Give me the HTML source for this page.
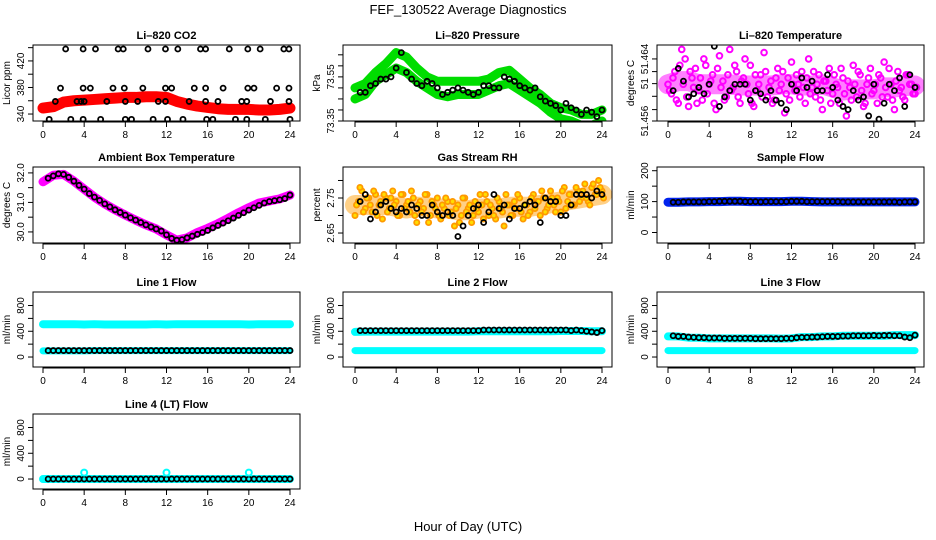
<!DOCTYPE html>
<html><head><meta charset="utf-8"><style>
html,body{margin:0;padding:0;background:#fff;}
svg{display:block;font-family:"Liberation Sans",sans-serif;}
</style></head><body>
<svg id="chart" width="936" height="540" viewBox="0 0 936 540" xmlns="http://www.w3.org/2000/svg">
<text x="468" y="14" text-anchor="middle" font-size="13">FEF_130522  Average Diagnostics</text>
<text x="468" y="531" text-anchor="middle" font-size="13">Hour of Day (UTC)</text>
</svg>
<script>
// ---- data ----
const hours = [0,1,2,3,4,5,6,7,8,9,10,11,12,13,14,15,16,17,18,19,20,21,22,23,24];
const blkH = [0.5,1,1.5,2,2.5,3,3.5,4,4.5,5,5.5,6,6.5,7,7.5,8,8.5,9,9.5,10,10.5,11,11.5,12,12.5,13,13.5,14,14.5,15,15.5,16,16.5,17,17.5,18,18.5,19,19.5,20,20.5,21,21.5,22,22.5,23,23.5,24];
const xTicks = [0,4,8,12,16,20,24];

const co2Band = [349,351,358,360,361,362,363,364,365,365,366,366,365,359,355,352,350,348,347,347,347,346,346,347,349];
const co2PtH = [2.2,3.9,5.1,7.3,7.8,10.2,11.9,13.1,15.3,15.8,18.1,19.9,21.1,23.4,23.9, 1.7,3.9,4.6,6.8,7.9,9.7,11.9,12.5,14.7,15.8,17.5,19.9,20.5,22.7,23.9, 1.2,3.3,3.7,4.0,6.2,8.0,9.2,11.2,11.9,14.2,15.8,17.0,19.3,19.8,22.1,23.9, 0.6,2.7,3.9,5.6,8.0,8.6,10.7,12.1,13.6,15.9,16.5,18.7,19.8,21.6,24.0];
const co2PtV = [438,438,438,438,438,438,438,438,438,438,438,438,438,438,438, 379,379,379,379,379,379,379,379,379,379,379,379,379,379,379, 359,359,359,359,359,359,359,359,359,359,359,359,359,359,359,359, 332,332,332,332,332,332,332,332,332,332,332,332,332,332,332];

const presUpper = [73.50,73.52,73.57,73.61,73.66,73.64,73.59,73.55,73.53,73.53,73.53,73.53,73.53,73.54,73.57,73.58,73.54,73.50,73.47,73.43,73.41,73.40,73.38,73.38,73.40];
const presLower = [73.45,73.47,73.53,73.56,73.59,73.57,73.53,73.50,73.47,73.46,73.47,73.47,73.47,73.49,73.51,73.52,73.49,73.46,73.43,73.39,73.36,73.35,73.33,73.33,73.35];
const presPt = [73.48,73.48,73.51,73.52,73.54,73.54,73.55,73.59,73.66,73.57,73.54,73.52,73.51,73.53,73.52,73.50,73.47,73.48,73.49,73.50,73.49,73.48,73.47,73.48,73.51,73.51,73.50,73.50,73.55,73.54,73.53,73.51,73.50,73.49,73.50,73.46,73.44,73.43,73.42,73.40,73.43,73.41,73.40,73.38,73.40,73.39,73.37,73.40];

const tempBand = [51.4600,51.4605,51.4605,51.4600,51.4600,51.4600,51.4600,51.4598,51.4598,51.4598,51.4598,51.4600,51.4600,51.4598,51.4598,51.4600,51.4595,51.4590,51.4592,51.4592,51.4592,51.4595,51.4595,51.4597,51.4598];
const tempM = [51.4600,51.4585,51.4620,51.4570,51.4655,51.4640,51.4565,51.4610,51.4625,51.4590,51.4575,51.4630,51.4600,51.4615,51.4560,51.4645,51.4605,51.4580,51.4655,51.4595,51.4620,51.4570,51.4610,51.4600,51.4630,51.4565,51.4590,51.4615,51.4650,51.4580,51.4605,51.4575,51.4625,51.4600,51.4555,51.4610,51.4635,51.4590,51.4600,51.4620,51.4570,51.4640,51.4595,51.4580,51.4615,51.4560,51.4605,51.4625,51.4585,51.4600,51.4570,51.4610,51.4550,51.4595,51.4630,51.4580,51.4615,51.4565,51.4600,51.4625,51.4590,51.4570,51.4610,51.4635,51.4580,51.4600,51.4560,51.4620,51.4595,51.4575,51.4615,51.4600,51.4585];
const tempM2 = [51.4590,51.4610,51.4575,51.4630,51.4600,51.4580,51.4620,51.4595,51.4570,51.4610,51.4640,51.4585,51.4605,51.4570,51.4625,51.4595,51.4575,51.4615,51.4590,51.4630,51.4580,51.4605,51.4640,51.4585,51.4570,51.4615,51.4600,51.4580,51.4620,51.4595,51.4570,51.4610,51.4590,51.4620,51.4585,51.4575,51.4600,51.4615,51.4580,51.4595,51.4610,51.4585,51.4620,51.4600,51.4575,51.4605,51.4590,51.4570,51.4615,51.4595,51.4625,51.4585,51.4605,51.4575,51.4600,51.4620,51.4590,51.4570,51.4610,51.4585,51.4600,51.4615,51.4580,51.4595,51.4625,51.4575,51.4605,51.4590,51.4580,51.4615,51.4600,51.4585,51.4595];
const tempBlk = [51.4590,51.4625,51.4605,51.4580,51.4585,51.4595,51.4585,51.4600,51.4660,51.4565,51.4580,51.4590,51.4600,51.4600,51.4600,51.4575,51.4590,51.4585,51.4575,51.4590,51.4575,51.4570,51.4560,51.4600,51.4590,51.4610,51.4595,51.4605,51.4590,51.4590,51.4615,51.4595,51.4575,51.4565,51.4560,51.4590,51.4575,51.4580,51.4550,51.4600,51.4545,51.4570,51.4600,51.4590,51.4610,51.4565,51.4615,51.4595];

const ambBand = [31.70,31.92,31.95,31.72,31.45,31.18,30.95,30.75,30.57,30.40,30.24,30.10,29.90,29.72,29.80,29.98,30.12,30.28,30.46,30.65,30.82,30.98,31.05,31.12,31.25];
const ambPt = [31.82,31.90,31.97,31.95,31.85,31.72,31.58,31.45,31.30,31.18,31.07,30.95,30.85,30.75,30.66,30.57,30.48,30.40,30.32,30.24,30.17,30.10,30.03,29.90,29.78,29.72,29.74,29.80,29.86,29.92,29.98,30.05,30.14,30.22,30.30,30.38,30.47,30.56,30.65,30.74,30.82,30.90,30.98,31.03,31.06,31.09,31.13,31.25];

const rhBand = [2.73,2.73,2.73,2.73,2.725,2.72,2.725,2.725,2.72,2.72,2.715,2.715,2.72,2.72,2.72,2.725,2.725,2.725,2.73,2.735,2.74,2.745,2.75,2.755,2.76];
const rhA = [2.70,2.74,2.77,2.72,2.75,2.71,2.76,2.73,2.69,2.75,2.72,2.77,2.74,2.70,2.76,2.73,2.71,2.75,2.68,2.74,2.72,2.76,2.70,2.73,2.75,2.69,2.72,2.74,2.71,2.67,2.73,2.70,2.75,2.72,2.68,2.74,2.71,2.73,2.76,2.70,2.72,2.69,2.74,2.71,2.76,2.73,2.70,2.72,2.75,2.69,2.73,2.71,2.76,2.74,2.70,2.75,2.72,2.77,2.73,2.75,2.71,2.78,2.74,2.76,2.73,2.77,2.75,2.79,2.74,2.78,2.76,2.80,2.77];
const rhB = [2.73,2.78,2.71,2.75,2.73,2.77,2.70,2.74,2.76,2.71,2.75,2.73,2.70,2.76,2.72,2.74,2.77,2.70,2.73,2.71,2.76,2.68,2.74,2.72,2.70,2.73,2.75,2.70,2.74,2.72,2.68,2.75,2.71,2.73,2.70,2.72,2.76,2.69,2.74,2.73,2.70,2.75,2.72,2.67,2.73,2.70,2.74,2.76,2.71,2.73,2.70,2.75,2.72,2.74,2.77,2.71,2.73,2.75,2.71,2.74,2.77,2.72,2.76,2.73,2.78,2.74,2.77,2.75,2.73,2.79,2.76,2.78,2.75];
const rhBlk = [2.74,2.76,2.69,2.71,2.73,2.74,2.72,2.71,2.72,2.71,2.73,2.72,2.70,2.70,2.73,2.71,2.70,2.71,2.70,2.64,2.67,2.70,2.72,2.73,2.68,2.71,2.76,2.72,2.73,2.69,2.72,2.72,2.73,2.74,2.73,2.68,2.75,2.74,2.74,2.70,2.70,2.73,2.76,2.76,2.76,2.75,2.77,2.76];

const sampleBand = [98,98,99,99,100,100,101,101,100,100,100,100,101,101,100,99,99,99,99,99,99,99,99,99,99];
const sampleBlk = [98,98,99,99,99,99,99,100,100,101,101,101,101,101,100,100,100,99,100,100,100,100,100,101,101,101,100,100,100,100,100,100,100,99,99,99,99,99,99,99,99,99,99,99,98,99,99,99];

const l1Hi = [510,510,510,510,505,510,505,505,505,505,505,510,505,510,510,510,510,510,510,510,505,510,510,510,510];
const l1Lo = [95,95,95,95,95,100,100,100,100,100,100,100,100,100,100,100,100,100,100,100,100,100,100,100,100];
const l1Blk = [100,100,100,100,100,100,100,100,100,100,100,100,100,100,100,100,100,100,100,100,100,100,100,100,100,100,100,100,100,100,100,100,100,100,100,100,100,100,100,100,100,100,100,100,100,100,100,100];
const l2Hi = [390,395,395,395,395,395,395,395,395,395,395,395,400,400,400,400,400,400,400,400,405,405,405,400,400];
const l2Lo = [100,100,100,100,100,100,100,100,100,100,100,100,100,100,100,100,100,100,100,100,100,100,100,100,100];
const l2Blk = [410,410,410,410,410,410,410,410,410,410,410,410,410,410,410,410,410,410,410,410,410,410,410,410,420,420,420,420,420,420,420,420,420,420,420,420,420,420,420,420,420,410,420,410,400,390,380,410];
const l3Hi = [320,320,300,300,290,290,290,290,290,290,290,285,290,310,310,320,320,330,330,330,330,330,340,340,340];
const l3Lo = [100,100,100,100,100,100,100,100,100,100,100,100,100,100,100,100,100,100,100,100,100,100,100,100,100];
const l3Blk = [330,320,320,310,305,300,300,295,295,295,290,290,290,290,290,290,285,285,285,285,285,285,290,290,300,305,305,310,310,315,320,320,320,325,325,330,330,330,330,335,330,335,335,330,330,310,300,340];
const l4Hi = [0,0,0,0,0,0,0,0,0,0,0,0,0,0,0,0,0,0,0,0,0,0,0,0,0];
const l4Spike = [100,100,100];
const l4SpikeH = [4,12,20];
const l4Blk = [0,0,0,0,0,0,0,0,0,0,0,0,0,0,0,0,0,0,0,0,0,0,0,0,0,0,0,0,0,0,0,0,0,0,0,0,0,0,0,0,0,0,0,0,0,0,0,0];
const flowTicks = [0,200,400,600,800];
const flowLabels = ["0","","400","","800"];

// ---- helpers ----
const svg = document.getElementById('chart');
const NS = 'http://www.w3.org/2000/svg';
function mk(tag, attrs, parent){const e=document.createElementNS(NS,tag);for(const k in attrs)e.setAttribute(k,attrs[k]);(parent||svg).appendChild(e);return e;}
const cols = [[33,300,43,290],[343,612,355,602],[657,924,668,915]];
const rows = [[45,121],[167,243],[292,367],[414,489]];

function panel(c,r,title,ylab,ymin,ymax,yTicks,yLabels,name){
  const [bl,br,x0,x24]=cols[c];const [bt,bb]=rows[r];
  const g=mk('g',{});
  
  
  const X=h=>x0+(x24-x0)*h/24;
  const Y=v=>bb-(v-ymin)/(ymax-ymin)*(bb-bt);
  const t=mk('text',{x:(bl+br)/2,y:bt-6,'text-anchor':'middle','font-size':'11','font-weight':'bold'},g);t.textContent=title;
  
  
  const yl=mk('text',{x:0,y:0,'text-anchor':'middle','font-size':'10',transform:`translate(${bl-23},${(bt+bb)/2}) rotate(-90)`},g);yl.textContent=ylab;
  
  
  const plot=mk('g',{},g);
  
  
  const xa=mk('g',{stroke:'#000','stroke-width':1},g);
  
  
  mk('line',{x1:X(0),x2:X(24),y1:bb+1,y2:bb+1},xa);
  xTicks.forEach(h=>{mk('line',{x1:X(h),x2:X(h),y1:bb,y2:bb+6},xa);
    const tl=mk('text',{x:X(h),y:bb+17,'text-anchor':'middle','font-size':'10',stroke:'none'},xa);tl.textContent=h;
    
    });
  const ya=mk('g',{stroke:'#000','stroke-width':1},g);
  
  
  mk('line',{x1:bl,x2:bl,y1:Y(yTicks[0]),y2:Y(yTicks[yTicks.length-1])},ya);
  yTicks.forEach((v,i)=>{mk('line',{x1:bl-5,x2:bl,y1:Y(v),y2:Y(v)},ya);
    if(yLabels[i]){const tl=mk('text',{x:0,y:0,'text-anchor':'middle','font-size':'10',stroke:'none',transform:`translate(${bl-9},${Y(v)}) rotate(-90)`},ya);tl.textContent=yLabels[i];
    
    }});
  const box=mk('rect',{x:bl,y:bt,width:br-bl,height:bb-bt,fill:'none',stroke:'#000','stroke-width':1},g);
  
  
  const cl='clip'+name;const cp=mk('clipPath',{id:cl},g);mk('rect',{x:bl,y:bt,width:br-bl,height:bb-bt},cp);
  plot.setAttribute('clip-path',`url(#${cl})`);
  return {X,Y,plot};
}
function band(p,hs,vals,color,w,name,op){
  const pts=hs.map((h,i)=>p.X(h)+','+p.Y(vals[i])).join(' ');
  const l=mk('polyline',{points:pts,fill:'none',stroke:color,'stroke-width':w,'stroke-linejoin':'round','stroke-linecap':'round','stroke-opacity':op||1},p.plot);
  
  
}
function pts(p,hs,vals,color,r,sw,name,fill){
  hs.forEach((h,i)=>{const c=mk('circle',{cx:p.X(h),cy:p.Y(vals[i]),r:r,fill:fill||'none',stroke:color,'stroke-width':sw},p.plot);
    
    });
}
const h73 = tempM.map((_,i)=>i/3);
const h73b = tempM2.map((_,i)=>i/3+0.15);

// CO2
let p=panel(0,0,'Li\u2013820 CO2','Licor ppm',329.5,444,[340,360,380,400,420,440],['340','','380','','420',''],'co2');
band(p,hours,co2Band,'#ff0000',11,'co2-band');
pts(p,co2PtH,co2PtV,'#000',2.5,1.8,'co2-point');
// Pressure
const pTicks=[73.35,73.40,73.45,73.50,73.55,73.60,73.65];
p=panel(1,0,'Li\u2013820 Pressure','kPa',73.35,73.6945,pTicks,['73.35','','','','73.55','',''],'pressure');
band(p,hours,presUpper,'#00dd00',9,'pressure-band-upper');
band(p,hours,presLower,'#00dd00',9,'pressure-band-lower');
pts(p,blkH,presPt,'#000',2.5,1.8,'pressure-point');
// Li-820 temp
p=panel(2,0,'Li\u2013820 Temperature','degrees C',51.4542,51.4662,[51.4542,51.456,51.4581,51.4601,51.462,51.464],['51.456','','','51','','51.464'],'li820-temp');
band(p,hours,tempBand,'#ff00ff',20,'li820-temp-band',0.5);
pts(p,h73,tempM,'#ff00ff',2.8,2,'li820-temp-point');
pts(p,h73b,tempM2,'#ff00ff',2.8,2,'li820-temp-point');
pts(p,blkH,tempBlk,'#000',2.5,1.8,'li820-temp-black-point');
// Ambient
p=panel(0,1,'Ambient Box Temperature','degrees C',29.625,32.2,[30.0,30.5,31.0,31.5,32.0],['30.0','','31.0','','32.0'],'ambient');
band(p,hours,ambBand,'#ff00ff',9,'ambient-band');
pts(p,blkH,ambPt,'#000',2.5,1.8,'ambient-point');
// RH
p=panel(1,1,'Gas Stream RH','percent',2.6215,2.8385,[2.65,2.70,2.75,2.80],['2.65','','2.75',''],'rh');
band(p,hours,rhBand,'#ffaa22',20,'rh-band',0.55);
pts(p,h73,rhA,'#ff9900',2.6,1.8,'rh-point','#ffdd00');
pts(p,h73b,rhB,'#ff9900',2.6,1.8,'rh-point','#ffdd00');
pts(p,blkH,rhBlk,'#000',2.5,1.8,'rh-black-point');
// Sample flow
p=panel(2,1,'Sample Flow','ml/min',-34,212,[0,50,100,150,200],['0','','100','','200'],'sample-flow');
band(p,hours,sampleBand,'#0022ee',9,'sample-flow-band');
pts(p,blkH,sampleBlk,'#000',2.5,1.8,'sample-flow-point');
// Line flows
function flowPanel(c,r,title,name,hi,lo,blk){
  const q=panel(c,r,title,'ml/min',-155,1010,flowTicks,flowLabels,name);
  band(q,hours,hi,'#00ffff',8,name+'-band-high');
  if(lo)band(q,hours,lo,'#00ffff',7,name+'-band-low');
  pts(q,blkH,blk,'#000',2.5,1.8,name+'-point');
  return q;
}
flowPanel(0,2,'Line 1 Flow','line1-flow',l1Hi,l1Lo,l1Blk);
flowPanel(1,2,'Line 2 Flow','line2-flow',l2Hi,l2Lo,l2Blk);
flowPanel(2,2,'Line 3 Flow','line3-flow',l3Hi,l3Lo,l3Blk);
p=flowPanel(0,3,'Line 4 (LT) Flow','line4-flow',l4Hi,null,l4Blk);
pts(p,l4SpikeH,l4Spike,'#00ffff',3,2,'line4-flow-spike');
</script>
</body></html>
